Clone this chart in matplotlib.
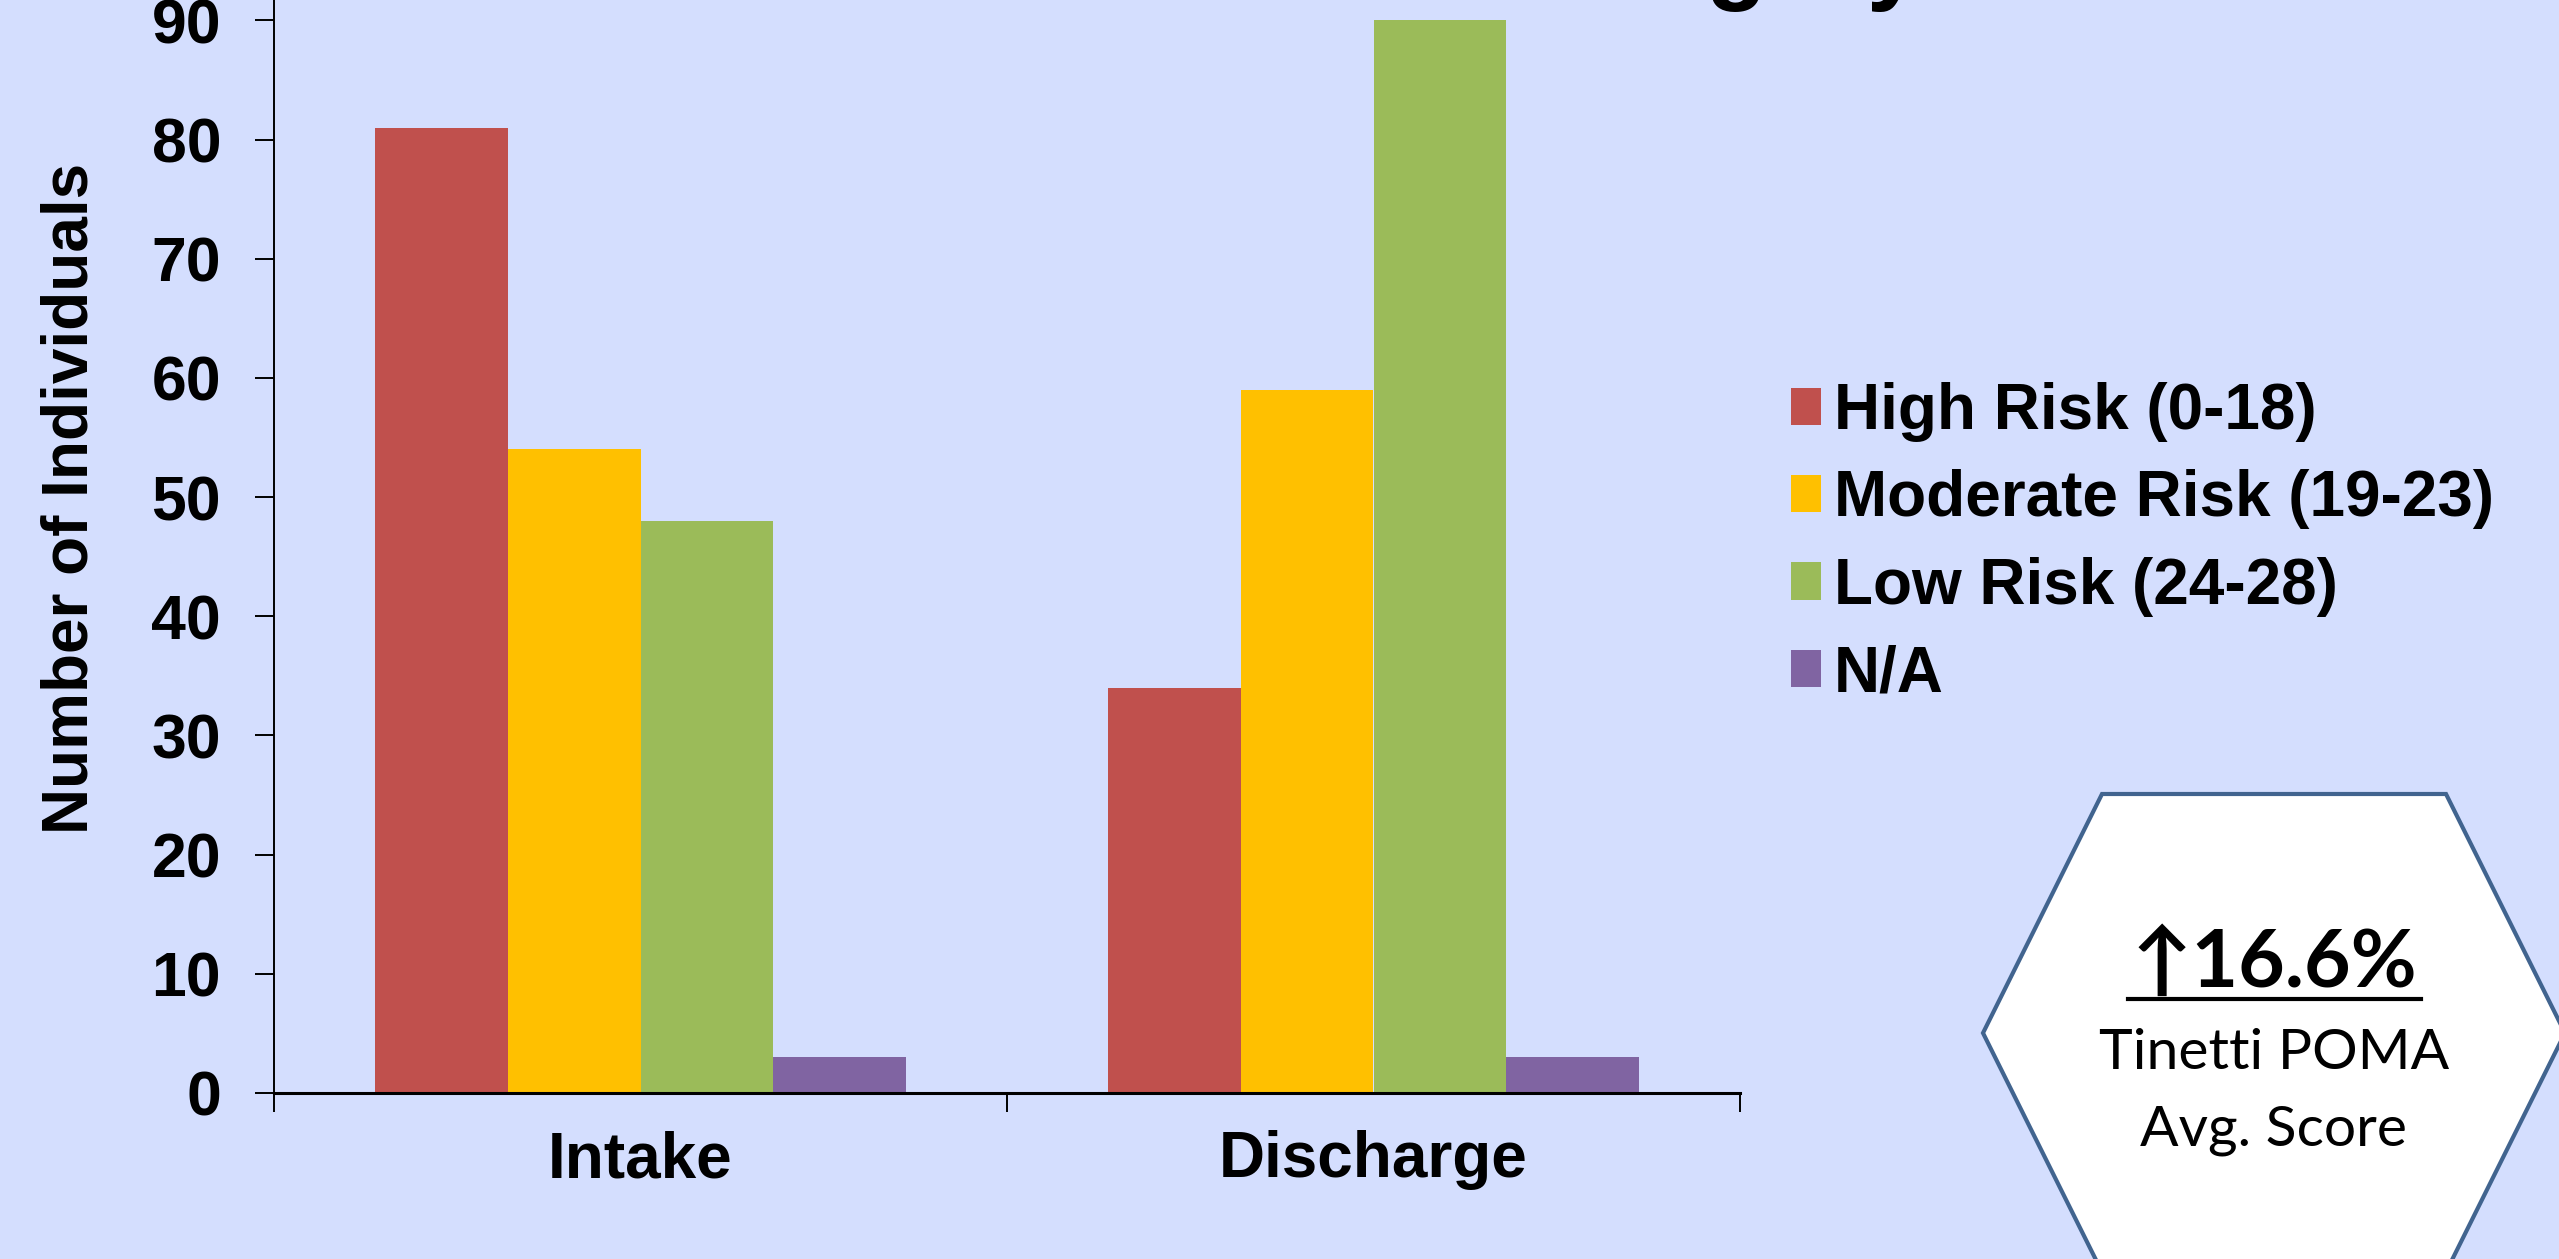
import numpy as np
import matplotlib
matplotlib.use("Agg")
import matplotlib.pyplot as plt
from matplotlib.patches import Polygon
from matplotlib.lines import Line2D

# data
groups = ["Intake", "Discharge"]
series = ["High Risk (0-18)", "Moderate Risk (19-23)", "Low Risk (24-28)", "N/A"]
high = [81, 34]
moderate = [54, 59]
low = [48, 90]
na = [3, 3]
colors = ["#C0504D", "#FFC000", "#9BBB59", "#8064A2"]
yticks = [0, 10, 20, 30, 40, 50, 60, 70, 80, 90]

bg = "#D4DEFE"
W, H = 2559, 1259

plt.rcParams['font.family'] = ['Liberation Sans', 'DejaVu Sans']
plt.rcParams['font.weight'] = 'bold'

fig = plt.figure(figsize=(W / 100, H / 100), dpi=100)
fig.patch.set_facecolor(bg)

ax = fig.add_axes([274 / W, (H - 1093) / H, (1740 - 274) / W, 1093 / H])
ax.set_facecolor(bg)

x = np.arange(len(groups))
bw = 0.181
for i, (vals, name) in enumerate(zip([high, moderate, low, na], series)):
    ax.bar(x + (i - 1.5) * bw, vals, width=bw, color=colors[i], label=name, zorder=2)

ax.set_xlim(-0.5, 1.5)
ax.set_ylim(0, 91.72)

ax.spines['top'].set_visible(False)
ax.spines['right'].set_visible(False)
ax.spines['left'].set_linewidth(1.4)
ax.spines['bottom'].set_linewidth(2.2)
ax.spines['bottom'].set_zorder(3)

ax.set_yticks(yticks)
ax.set_yticklabels([str(v) for v in yticks])
ax.tick_params(axis='y', length=14, width=1.4, pad=24, labelsize=45)

# category separators as major ticks, names as minor ticks
ax.set_xticks([-0.5, 0.5, 1.5])
ax.set_xticklabels([])
ax.set_xticks(x, minor=True)
ax.set_xticklabels(groups, minor=True)
ax.tick_params(axis='x', which='major', length=14, width=1.4)
ax.tick_params(axis='x', which='minor', length=0, pad=27, labelsize=46)

fig.text(71 / W, (H - 498) / H, "Number of Individuals", rotation=90,
         ha='center', va='center', fontsize=46, fontweight='bold')

# title sits mostly above the visible area
fig.text(1250 / W, 1 + 9 / H, "Risk Category", ha='left', va='baseline',
         fontsize=72, fontweight='bold')

leg = ax.legend(loc='center left', bbox_to_anchor=(1791 / W, (H - 543) / H),
                bbox_transform=fig.transFigure, frameon=False, fontsize=46,
                handlelength=0.47, handleheight=0.52, handletextpad=0.2,
                labelspacing=0.43, borderpad=0, borderaxespad=0)

# hexagon callout
hx = [2102, 2446, 2565, 2446, 2102, 1983]
hy = [794, 794, 1033, 1272, 1272, 1033]
pts = [(a / W, (H - b) / H) for a, b in zip(hx, hy)]
hexagon = Polygon(pts, closed=True, transform=fig.transFigure, facecolor='white',
                  edgecolor='#41648F', linewidth=3, clip_on=False)
fig.add_artist(hexagon)

fig.text(2274 / W, (H - 987) / H, "\u219116.6%", ha='center', va='baseline',
         fontsize=58, fontweight='bold', family=['Lato', 'DejaVu Sans'])
fig.add_artist(Line2D([2128 / W, 2421 / W], [(H - 999) / H] * 2,
                      transform=fig.transFigure, color='black', linewidth=3))
fig.text(2274 / W, (H - 1069) / H, "Tinetti POMA", ha='center', va='baseline',
         fontsize=41, fontweight='normal', family=['Lato', 'DejaVu Sans'])
fig.text(2274 / W, (H - 1145) / H, "Avg. Score", ha='center', va='baseline',
         fontsize=41, fontweight='normal', family=['Lato', 'DejaVu Sans'])

fig.savefig("out.png", dpi=100, facecolor=bg)
